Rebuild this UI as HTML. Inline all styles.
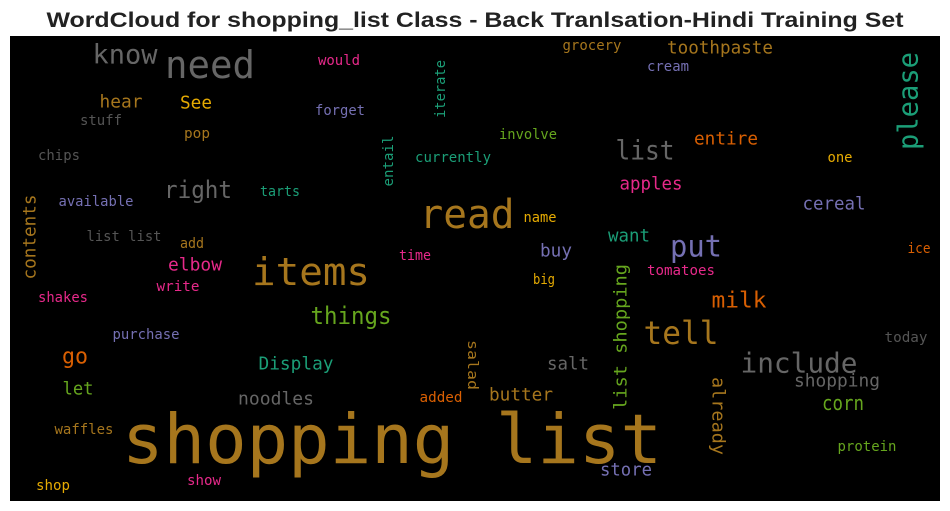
<!DOCTYPE html>
<html><head><meta charset="utf-8"><style>
html,body{margin:0;padding:0;background:#fff;}
svg{display:block;}
text.w{font-family:"DejaVu Sans Mono","Liberation Mono",monospace;dominant-baseline:central;text-anchor:middle;}
</style></head><body>
<svg id="wc" width="950" height="511" viewBox="0 0 950 511">
<text x="475" y="27" text-anchor="middle" font-family="Liberation Sans, sans-serif" font-weight="bold" font-size="21" fill="#222" textLength="857" lengthAdjust="spacingAndGlyphs">WordCloud for shopping_list Class - Back Tranlsation-Hindi Training Set</text>
<rect x="10" y="36" width="930" height="465" fill="#000"/>
<g id="words"></g>
</svg>
<script>
const words=["shopping list","need","know","would","hear","See","stuff","pop","forget","iterate","chips","entail","currently","involve","grocery","toothpaste","cream","please","list","entire","one","apples","right","tarts","available","contents","read","name","cereal","list list","add","want","put","buy","time","ice","elbow","items","tomatoes","write","big","list shopping","shakes","milk","things","tell","purchase","today","salad","go","Display","salt","include","shopping","let","already","noodles","added","butter","corn","waffles","protein","store","shop","show"];
const sizes=[69,38,27,14,18,18,14,14,14,14,14,14,14,14,14,18,14,28,27,18,14,18,24,14,14,18,40,14,18,14,14,18,30,18,14,14,18,38,14,14,14,18,14,22,24,32,14,14,14,22,18,18,28,18,18,18,18,14,18,20,14,14,18,14,14];
const colors=["#a6761d","#666666","#666666","#e7298a","#a6761d","#e6ab02","#555555","#a6761d","#7570b3","#1b9e77","#555555","#1b9e77","#1b9e77","#66a61e","#a6761d","#a6761d","#7570b3","#1b9e77","#666666","#d95f02","#e6ab02","#e7298a","#666666","#1b9e77","#7570b3","#a6761d","#a6761d","#e6ab02","#7570b3","#555555","#a6761d","#1b9e77","#7570b3","#7570b3","#e7298a","#d95f02","#e7298a","#a6761d","#e7298a","#e7298a","#e6ab02","#66a61e","#e7298a","#d95f02","#66a61e","#a6761d","#7570b3","#555555","#a6761d","#d95f02","#1b9e77","#666666","#666666","#666666","#66a61e","#a6761d","#666666","#d95f02","#a6761d","#66a61e","#a6761d","#66a61e","#7570b3","#e6ab02","#e7298a"];
// layout: [centerX, centerY, extent, rotation(deg)]
const layout=[[392,440,540,0],[210,65,90,0],[125,55,65,0],[339,61,42,0],[121,102,43,0],[196,103,32,0],[101,121,42,0],[197,134,26,0],[340,111,50,0],[441,89,58,-90],[59,156,42,0],[389,161,51,-90],[453,158,76,0],[528,135,58,0],[592,46,59,0],[720,48,106,0],[668,67,42,0],[908,101,98,-90],[645,151,59,0],[726,139,64,0],[840,158,25,0],[651,184,63,0],[198,190,68,0],[280,192,40,0],[96,202,75,0],[30,237,85,-90],[467,215,95,0],[540,218,33,0],[834,204,63,0],[124,237,75,0],[192,244,24,0],[629,236,42,0],[696,247,52,0],[556,251,32,0],[415,256,32,0],[919,249,23,0],[195,265,54,0],[311,272,118,0],[681,271,68,0],[178,287,43,0],[544,280,22,0],[621,337,146,-90],[63,298,50,0],[739,301,55,0],[351,316,81,0],[681,333,75,0],[146,335,67,0],[906,338,43,0],[472,365,50,90],[75,357,26,0],[296,364,75,0],[568,364,42,0],[799,363,117,0],[837,381,86,0],[78,389,31,0],[718,416,78,90],[276,399,76,0],[441,398,43,0],[521,395,64,0],[843,403,42,0],[84,430,59,0],[867,447,59,0],[626,470,52,0],[53,486,34,0],[204,481,34,0]];
const g=document.getElementById('words');
const NS='http://www.w3.org/2000/svg';
for(let i=0;i<words.length;i++){
  const t=document.createElementNS(NS,'text');
  t.setAttribute('class','w');
  t.setAttribute('font-size',sizes[i]);
  t.setAttribute('fill',colors[i]);
  t.setAttribute('textLength',layout[i][2]);
  t.setAttribute('lengthAdjust','spacingAndGlyphs');
  t.setAttribute('transform','translate('+layout[i][0]+','+layout[i][1]+')'+(layout[i][3]?' rotate('+layout[i][3]+')':''));
  t.textContent=words[i];
  
  
  g.appendChild(t);
}
</script>
</body></html>
